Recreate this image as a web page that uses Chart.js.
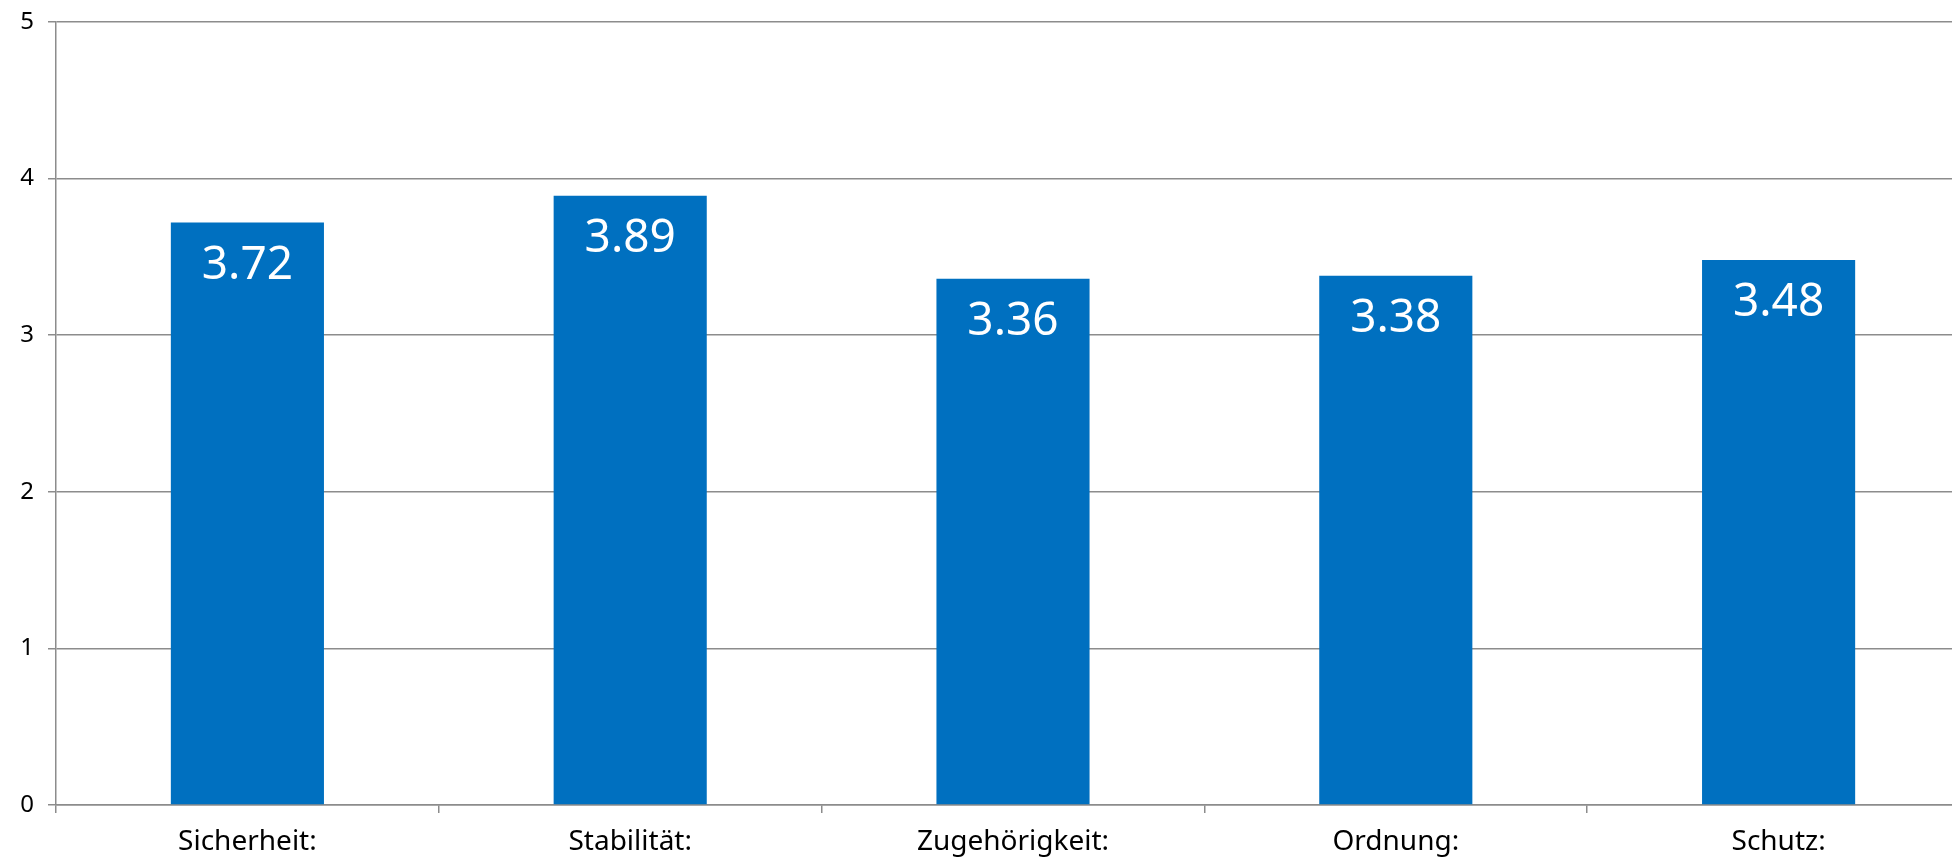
<!DOCTYPE html>
<html>
<head>
<meta charset="utf-8">
<script src="https://cdn.jsdelivr.net/npm/chart.js@4"></script>
<style>
  html, body { margin: 0; padding: 0; background: #fff; overflow: hidden; }
  #wrap { position: relative; width: 1970px; height: 858px; }
</style>
</head>
<body>
<div id="wrap"><canvas id="barChart"></canvas></div>
<script>
const CATEGORIES = ["Sicherheit:", "Stabilität:", "Zugehörigkeit:", "Ordnung:", "Schutz:"];
const VALUES = [3.72, 3.89, 3.36, 3.38, 3.48];
const Y_TICKS = [0, 1, 2, 3, 4, 5];

const FONT = "'Noto Sans', sans-serif";
const BAR_COLOR = "#0070C0";
const GRID_COLOR = "#8c8c8c";

// value labels drawn inside the top of each bar
const valueLabels = {
  id: "valueLabels",
  afterDatasetsDraw(chart) {
    const ctx = chart.ctx;
    const meta = chart.getDatasetMeta(0);
    ctx.save();
    ctx.fillStyle = "#fff";
    ctx.font = "46px " + FONT;
    ctx.textAlign = "center";
    ctx.textBaseline = "middle";
    meta.data.forEach((bar, i) => {
      const { x, y } = bar.getProps(["x", "y"], true);
      ctx.fillText(VALUES[i].toFixed(2), x, y + 43);
    });
    ctx.restore();
  }
};

new Chart(document.getElementById("barChart"), {
  type: "bar",
  data: {
    labels: CATEGORIES,
    datasets: [{
      data: VALUES,
      backgroundColor: BAR_COLOR,
      barPercentage: 0.4,
      categoryPercentage: 1
    }]
  },
  options: {
    responsive: true,
    maintainAspectRatio: false,
    animation: false,
    layout: { padding: { top: 22, right: 0, left: 0, bottom: 0 } },
    plugins: { legend: { display: false }, tooltip: { enabled: false } },
    scales: {
      x: {
        grid: { offset: true, drawOnChartArea: false, color: GRID_COLOR, tickLength: 8, lineWidth: 1.5 },
        border: { color: GRID_COLOR, width: 1.5 },
        ticks: { color: "#000", font: { family: FONT, size: 28 }, padding: 12, maxRotation: 0 },
        afterFit(scale) { scale.height = 53; }
      },
      y: {
        min: 0,
        max: 5,
        afterBuildTicks(scale) { scale.ticks = Y_TICKS.map(v => ({ value: v })); },
        grid: { color: GRID_COLOR, tickLength: 8, lineWidth: 1.5 },
        border: { color: GRID_COLOR, width: 1.5 },
        ticks: { color: "#000", font: { family: FONT, size: 24 }, padding: 14 },
        afterFit(scale) { scale.width = 56; scale.paddingTop = 0; scale.paddingBottom = 0; }
      }
    }
  },
  plugins: [valueLabels]
});
</script>
</body>
</html>
